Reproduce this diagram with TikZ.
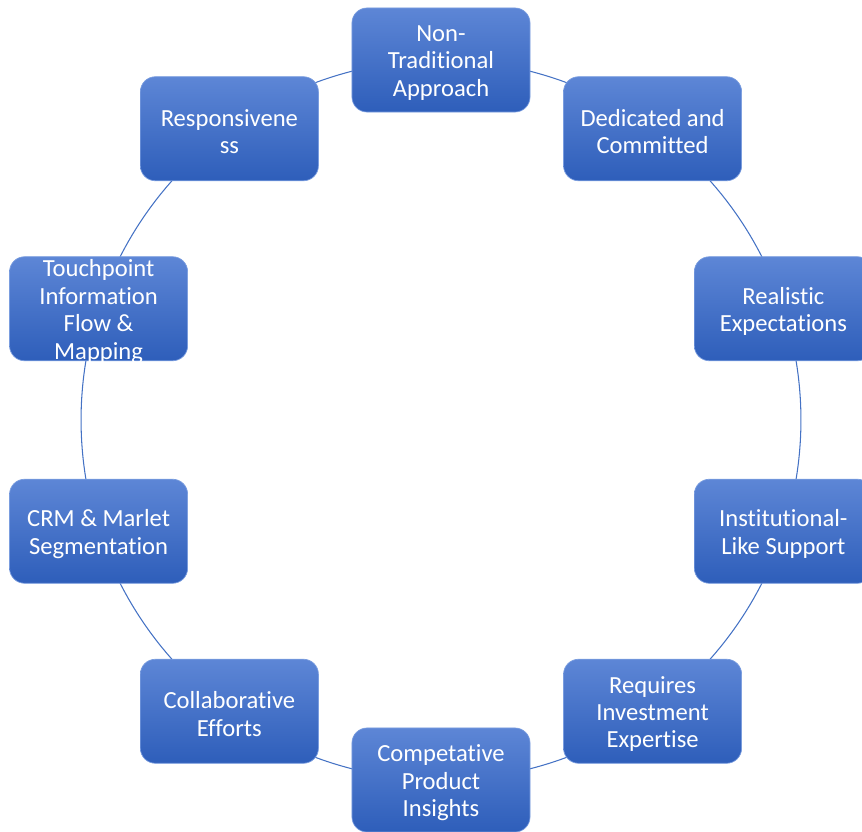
\documentclass[tikz,border=0pt]{standalone}
\usepackage{fontspec}
\setmainfont{Carlito}[Ligatures=NoCommon]
\usetikzlibrary{backgrounds}
\definecolor{ringblue}{HTML}{4472C4}
\definecolor{boxtop}{HTML}{5D86D6}
\definecolor{boxbottom}{HTML}{2E5EBA}
\definecolor{boxedge}{HTML}{7A9DDF}
\begin{document}
\begin{tikzpicture}[x=0.025cm, y=0.025cm,
    cyclebox/.style={rounded corners=0.375cm, top color=boxtop, bottom color=boxbottom,
      draw=boxedge, line width=0.5pt, inner sep=0pt, text=white,
      font=\fontsize{17.5}{19.5}\selectfont,
      execute at begin node={\begin{minipage}[c][2.6cm][c]{4.45cm}\centering\vspace*{4pt}},
      execute at end node={\end{minipage}}},
    ring/.style={ringblue, line width=0.75pt}]
  \useasboundingbox (-441,-411) rectangle (421,420);
  \foreach \i/\txt in {0/{Non-\\Traditional\\Approach}, 1/{Dedicated and\\Committed},
      2/{Realistic\\Expectations}, 3/{Institutional-\\Like Support},
      4/{Requires\\Investment\\Expertise}, 5/{Competative\\Product\\Insights},
      6/{Collaborative\\Efforts}, 7/{CRM \& Marlet\\Segmentation},
      8/{Touchpoint\\Information\\Flow \&\\Mapping}, 9/{Responsivene\\ss}} {
    \node[cyclebox] (n\i) at ({90-36*\i}:360) {\txt};
  }
  \begin{scope}[on background layer]
    \foreach \i in {0,...,9} {
      \pgfmathtruncatemacro{\j}{mod(\i+1,10)}
      \draw[ring] (n\i.center) to[bend left=18, looseness=0.873] (n\j.center);
    }
  \end{scope}
\end{tikzpicture}
\end{document}
